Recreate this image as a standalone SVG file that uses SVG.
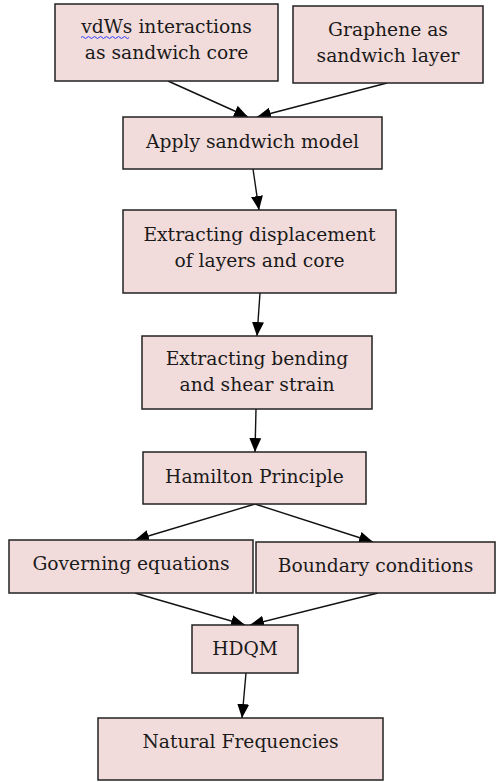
<svg xmlns="http://www.w3.org/2000/svg" width="496" height="782" viewBox="0 0 496 782">
<defs>
<marker id="ah" viewBox="0 0 14 12" refX="14" refY="6" markerWidth="14" markerHeight="12" markerUnits="userSpaceOnUse" orient="auto">
<path d="M0,0 L14,6 L0,12 Z" fill="#000"/>
</marker>
<style>
.box{fill:#f2dcdb;stroke:#222;stroke-width:1.5}
.t{font-family:"DejaVu Serif","Liberation Serif",serif;font-size:18.7px;fill:#1a1a1a;text-anchor:middle}
.c{stroke:#111;stroke-width:1.4;fill:none;marker-end:url(#ah)}
</style>
</defs>
<rect width="496" height="782" fill="#fff"/>
<g id="connectors">
<line class="c" x1="168" y1="81" x2="248" y2="117"/>
<line class="c" x1="387" y1="83" x2="257" y2="117"/>
<line class="c" x1="253" y1="169" x2="259" y2="210"/>
<line class="c" x1="260" y1="293" x2="257" y2="336"/>
<line class="c" x1="256" y1="409" x2="255" y2="452"/>
<line class="c" x1="255" y1="504" x2="135" y2="540"/>
<line class="c" x1="255" y1="504" x2="373" y2="542"/>
<line class="c" x1="135" y1="593" x2="245" y2="625"/>
<line class="c" x1="378" y1="593" x2="250" y2="625"/>
<line class="c" x1="246" y1="673" x2="242" y2="718"/>
</g>
<g id="n1">
<rect class="box" x="55" y="4" width="223" height="77"/>
<text class="t" x="166.5" y="33">vdWs interactions</text>
<text class="t" x="166.5" y="59">as sandwich core</text>
<path d="M81,37.5 q1.5,-2 3,0 t3,0 t3,0 t3,0 t3,0 t3,0 t3,0 t3,0 t3,0 t3,0 t3,0 t3,0 t3,0 t3,0 t3,0 t3,0" fill="none" stroke="#2a3cff" stroke-width="1"/>
</g>
<g id="n2">
<rect class="box" x="293" y="6" width="190" height="77"/>
<text class="t" x="388" y="36">Graphene as</text>
<text class="t" x="388" y="62">sandwich layer</text>
</g>
<g id="n3">
<rect class="box" x="123" y="117" width="259" height="52"/>
<text class="t" x="252.5" y="148">Apply sandwich model</text>
</g>
<g id="n4">
<rect class="box" x="123" y="210" width="273" height="83"/>
<text class="t" x="259.5" y="241">Extracting displacement</text>
<text class="t" x="259.5" y="267">of layers and core</text>
</g>
<g id="n5">
<rect class="box" x="142" y="336" width="230" height="73"/>
<text class="t" x="257" y="365">Extracting bending</text>
<text class="t" x="257" y="391">and shear strain</text>
</g>
<g id="n6">
<rect class="box" x="143" y="452" width="223" height="52"/>
<text class="t" x="254.5" y="483">Hamilton Principle</text>
</g>
<g id="n7">
<rect class="box" x="9" y="540" width="244" height="53"/>
<text class="t" x="131" y="570">Governing equations</text>
</g>
<g id="n8">
<rect class="box" x="256" y="542" width="239" height="51"/>
<text class="t" x="375.5" y="572">Boundary conditions</text>
</g>
<g id="n9">
<rect class="box" x="192" y="625" width="106" height="48"/>
<text class="t" x="245" y="655">HDQM</text>
</g>
<g id="n10">
<rect class="box" x="98" y="718" width="285" height="62"/>
<text class="t" x="240.5" y="748">Natural Frequencies</text>
</g>
</svg>
